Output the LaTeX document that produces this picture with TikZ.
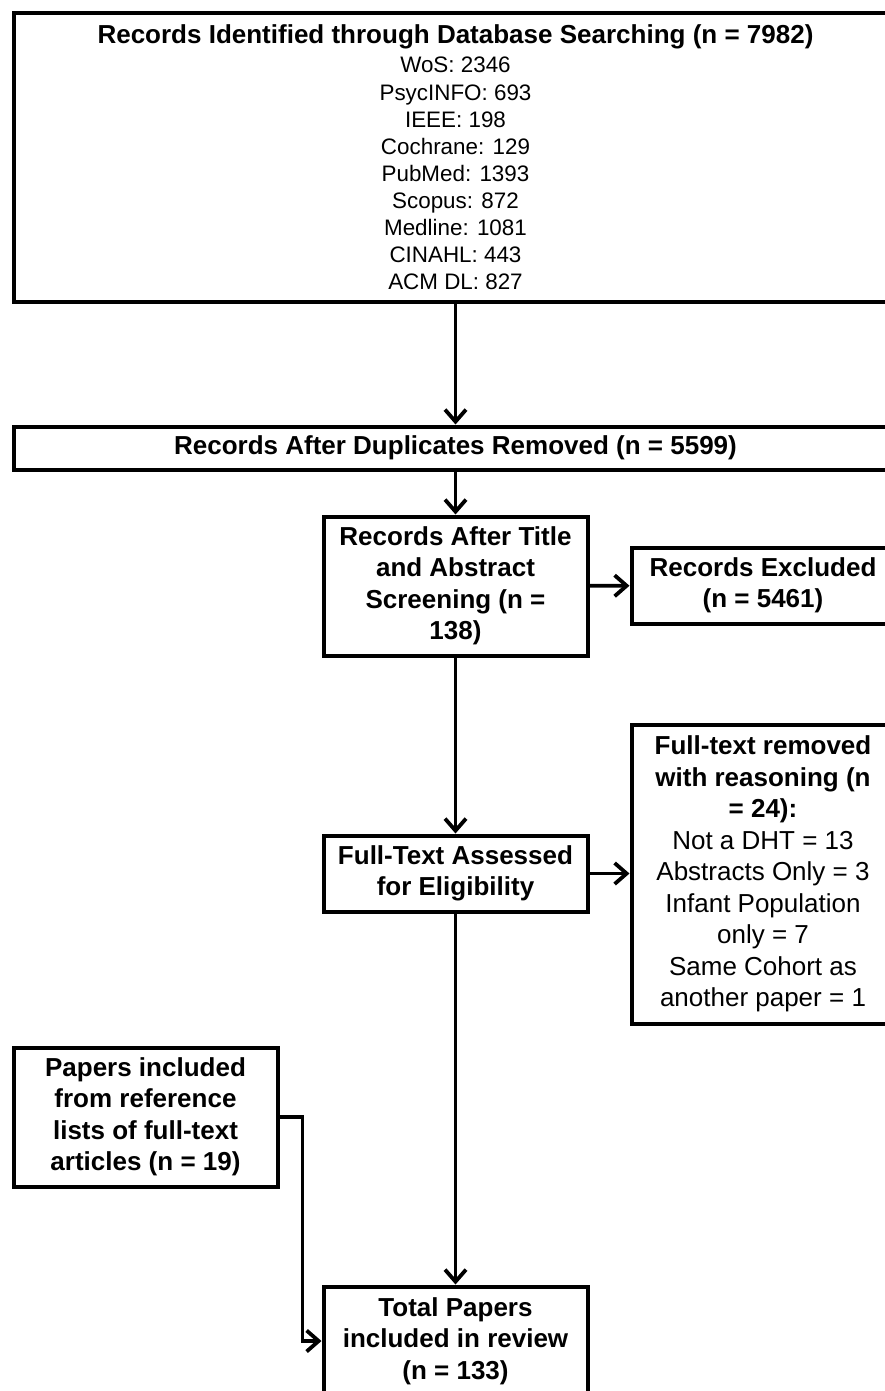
\documentclass[tikz,border=0pt]{standalone}
\usepackage{fontspec}
\setmainfont{Liberation Sans}
\usetikzlibrary{arrows.meta, positioning}

\newcommand{\boxfont}{\fontsize{26}{31.5}\selectfont}
\newcommand{\listfont}{\fontsize{22.4}{27.1}\selectfont}

\begin{document}
\begin{tikzpicture}[
    x=1pt, y=-1pt,
    box/.style   ={draw, line width=4pt, align=center, inner sep=0pt,
                   font=\boxfont\bfseries},
    listbox/.style={box, font=\listfont},
    notebox/.style={box, font=\boxfont},
    arr/.style   ={-{Straight Barb[length=12pt, width=21pt, line width=3.8pt]},
                   line width=3.8pt}
]

%% ── Frame: the picture is cut at its right and bottom edge ───────
\useasboundingbox (0,0) rectangle (885,1391);
\clip (0,0) rectangle (885,1391);

%% ── Identification ───────────────────────────────────────────────
\node[listbox, minimum width=884, minimum height=288] (search) at (455.5, 157.5)
    {{\boxfont\bfseries Records Identified through Database Searching (n = 7982)}\\[1.9pt]
     WoS: 2346\\ PsycINFO: 693\\ IEEE: 198\\ Cochrane: 129\\ PubMed: 1393\\
     Scopus: 872\\ Medline: 1081\\ CINAHL: 443\\ ACM DL: 827};
\node[box, minimum width=884, minimum height=43] (dedup) at (455.5, 448)
    {Records After Duplicates Removed (n = 5599)};

%% ── Screening ────────────────────────────────────────────────────
\node[box, minimum width=264, minimum height=139] (screen) at (455.5, 586)
    {Records After Title\\ and Abstract\\ Screening (n =\\ 138)};
\node[box, minimum width=263, minimum height=76] (excl) at (763, 585.5)
    {Records Excluded\\ (n = 5461)};

%% ── Eligibility ──────────────────────────────────────────────────
\node[box, minimum width=264, minimum height=76] (fulltext) at (455.5, 873.5)
    {Full-Text Assessed\\ for Eligibility};
\node[notebox, minimum width=263, minimum height=299] (removed) at (763, 874)
    {\textbf{Full-text removed}\\ \textbf{with reasoning (n}\\ \textbf{= 24):}\\
     Not a DHT = 13\\ Abstracts Only = 3\\ Infant Population\\ only = 7\\
     Same Cohort as\\ another paper = 1};

%% ── Included ─────────────────────────────────────────────────────
\node[box, minimum width=264, minimum height=139] (reflist) at (145.5, 1117)
    {Papers included\\ from reference\\ lists of full-text\\ articles (n = 19)};
\node[box, minimum width=264, minimum height=109] (total) at (455.5, 1341)
    {Total Papers\\ included in review\\ (n = 133)};

%% ── Main flow ────────────────────────────────────────────────────
\draw[arr] (search)   -- (dedup);
\draw[arr] (dedup)    -- (screen);
\draw[arr] (screen)   -- (excl);
\draw[arr] (screen)   -- (fulltext);
\draw[arr] (fulltext.east) -- (fulltext.east -| removed.west);
\draw[arr] (fulltext) -- (total);

%% ── Reference lists join the total from the left ─────────────────
\draw[arr] (reflist.east) -- ++(23,0) |- (total.west);

\end{tikzpicture}
\end{document}
